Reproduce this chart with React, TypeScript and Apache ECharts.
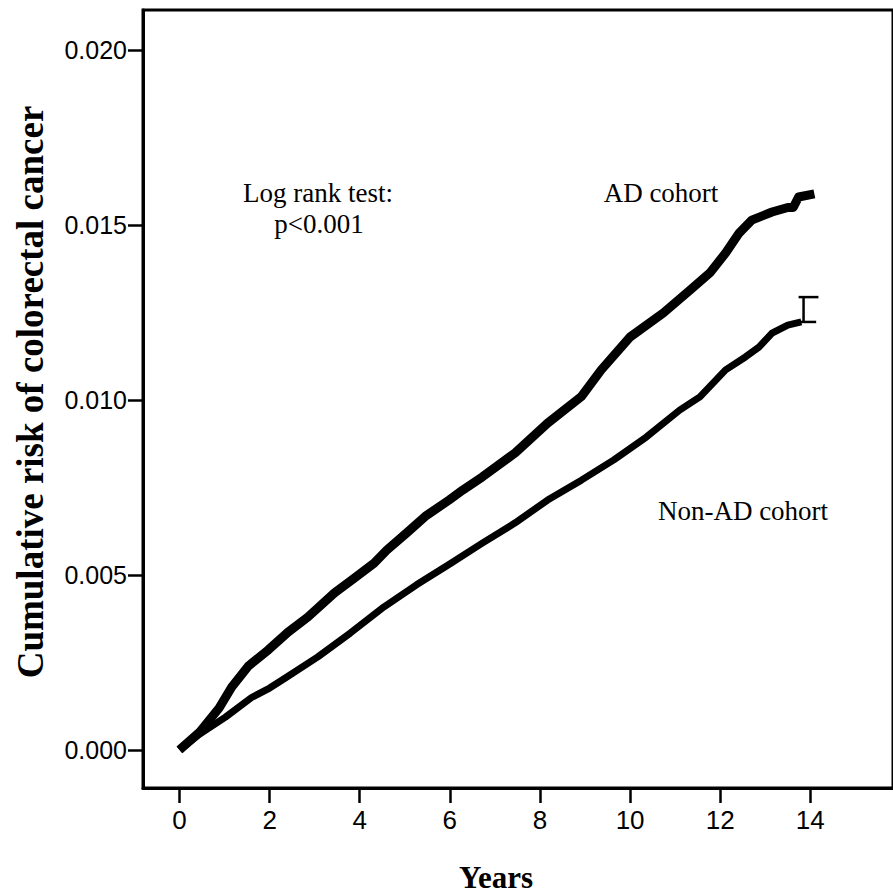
import React, { useEffect, useRef } from "react";
import * as echarts from "echarts";

const xTicks = [0, 2, 4, 6, 8, 10, 12, 14];
const yTicks = [0, 0.005, 0.01, 0.015, 0.02];

const adYears = [0, 0.44, 0.88, 1.16, 1.53, 1.97, 2.41, 2.85, 3.44, 3.88, 4.32, 4.6, 5.04, 5.48, 5.98, 6.29, 6.72, 7.45, 8.17, 8.92, 9.36, 10.0, 10.74, 11.33, 11.77, 12.12, 12.42, 12.7, 13.15, 13.5, 13.62, 13.74, 14.09];
const adRisk = [0, 0.0005, 0.0012, 0.0018, 0.0024, 0.00286, 0.00337, 0.0038, 0.00449, 0.00491, 0.00534, 0.00571, 0.0062, 0.0067, 0.00714, 0.00743, 0.0078, 0.00849, 0.00934, 0.0101, 0.01086, 0.0118, 0.01249, 0.01314, 0.01363, 0.0142, 0.01477, 0.01514, 0.01537, 0.0155, 0.0155, 0.0158, 0.01589];

const nonAdYears = [0, 0.44, 1.02, 1.6, 2.0, 2.34, 3.07, 3.79, 4.54, 5.26, 5.98, 6.72, 7.45, 8.17, 8.92, 9.64, 10.36, 11.1, 11.55, 12.12, 12.56, 12.86, 13.15, 13.5, 13.8];
const nonAdRisk = [0, 0.00045, 0.00094, 0.0015, 0.00177, 0.00205, 0.00266, 0.00334, 0.00409, 0.00472, 0.0053, 0.00591, 0.00649, 0.00714, 0.00771, 0.00829, 0.00894, 0.00971, 0.01009, 0.01086, 0.01123, 0.01151, 0.01191, 0.01214, 0.01223];

// censor / final step marks at the end of the Non-AD curve
const nonAdTailYears = [[13.65, 14.13], [13.85, 13.85], [13.74, 14.18]];
const nonAdTailRisk = [[0.01223, 0.01223], [0.01223, 0.01294], [0.01294, 0.01294]];

const pair = (xs: number[], ys: number[]) => xs.map((x, i) => [x, ys[i]]);

export default function App() {
  const ref = useRef<HTMLDivElement>(null);
  useEffect(() => {
    if (!ref.current) return;
    const chart = echarts.init(ref.current, null, { renderer: "svg" });
    const serif = "'Liberation Serif', 'Times New Roman', serif";
    const sans = "'Liberation Sans', Arial, sans-serif";
    const tailSeries = nonAdTailYears.map((xs, i) => ({
      type: "line",
      data: pair(xs, nonAdTailRisk[i]),
      showSymbol: false,
      lineStyle: { color: "#000", width: 2.5 },
      silent: true,
    }));
    chart.setOption({
      animation: false,
      backgroundColor: "#fff",
      grid: {
        left: 143,
        top: 10,
        right: -10,
        bottom: 108,
        show: true,
        borderColor: "#000",
        borderWidth: 3,
        containLabel: false,
      },
      xAxis: {
        type: "value",
        min: -0.81,
        max: 15.835,
        axisLine: { show: true, onZero: false, lineStyle: { color: "#000", width: 3 } },
        axisTick: { show: true, customValues: xTicks, length: 15, lineStyle: { color: "#000", width: 2.5 } },
        axisLabel: {
          customValues: xTicks,
          color: "#000",
          fontFamily: sans,
          fontSize: 26,
          margin: 19,
        },
        splitLine: { show: false },
      },
      yAxis: {
        type: "value",
        min: -0.001086,
        max: 0.021143,
        axisLine: { show: true, onZero: false, lineStyle: { color: "#000", width: 3 } },
        axisTick: { show: true, customValues: yTicks, length: 15, lineStyle: { color: "#000", width: 2.5 } },
        axisLabel: {
          customValues: yTicks,
          color: "#000",
          fontFamily: sans,
          fontSize: 25,
          margin: 16,
          formatter: (v: number) => v.toFixed(3),
        },
        splitLine: { show: false },
      },
      series: [
        {
          name: "AD cohort",
          type: "line",
          data: pair(adYears, adRisk),
          showSymbol: false,
          lineStyle: { color: "#000", width: 9, join: "round", cap: "butt" },
        },
        {
          name: "Non-AD cohort",
          type: "line",
          data: pair(nonAdYears, nonAdRisk),
          showSymbol: false,
          lineStyle: { color: "#000", width: 7, join: "round", cap: "butt" },
        },
        ...tailSeries,
      ],
      graphic: [
        {
          type: "text",
          x: 318,
          y: 193,
          style: { text: "Log rank test:", font: `27px ${serif}`, fill: "#000", align: "center", verticalAlign: "middle" },
        },
        {
          type: "text",
          x: 319,
          y: 224,
          style: { text: "p<0.001", font: `27px ${serif}`, fill: "#000", align: "center", verticalAlign: "middle" },
        },
        {
          type: "text",
          x: 661,
          y: 193,
          style: { text: "AD cohort", font: `27px ${serif}`, fill: "#000", align: "center", verticalAlign: "middle" },
        },
        {
          type: "text",
          x: 743,
          y: 511,
          style: { text: "Non-AD cohort", font: `27px ${serif}`, fill: "#000", align: "center", verticalAlign: "middle" },
        },
        {
          type: "text",
          x: 496,
          y: 877,
          style: { text: "Years", font: `bold 31px ${serif}`, fill: "#000", align: "center", verticalAlign: "middle" },
        },
        {
          type: "text",
          x: 30,
          y: 392,
          rotation: Math.PI / 2,
          style: {
            text: "Cumulative risk of colorectal cancer",
            font: `bold 37px ${serif}`,
            fill: "#000",
            align: "center",
            verticalAlign: "middle",
          },
        },
      ],
    });
    return () => chart.dispose();
  }, []);
  return (
    <div
      ref={ref}
      style={{ position: "fixed", left: 0, top: 0, width: 893, height: 896, background: "#fff" }}
    />
  );
}
